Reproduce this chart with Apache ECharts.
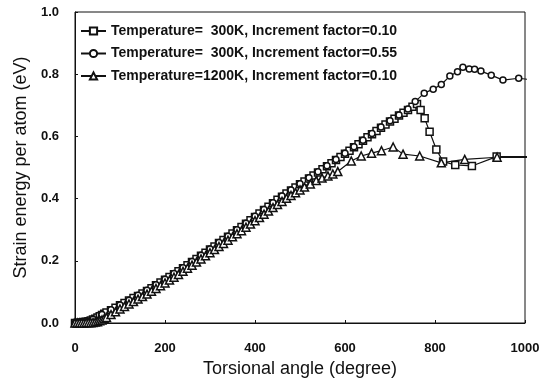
<!DOCTYPE html>
<html>
<head>
<meta charset="utf-8">
<title>Strain energy</title>
<script src="https://cdn.jsdelivr.net/npm/echarts@6/dist/echarts.min.js"></script>
<style>
	html, body { margin: 0; padding: 0; background: #fff; }
	#main { width: 553px; height: 379px; }
</style>
</head>
<body>
<div id="main"></div>
<script>
// 图例文字
var legendNames = [
	'Temperature=  300K, Increment factor=0.10',
	'Temperature=  300K, Increment factor=0.55',
	'Temperature=1200K, Increment factor=0.10'
];
// 刻度
var xTicks = [0, 200, 400, 600, 800, 1000];
var yTicks = [0.0, 0.2, 0.4, 0.6, 0.8, 1.0];

// 300K, 0.10  [角度, 能量]
var sq300 = [[0,0.000],[5,0.000],[10,0.001],[15,0.002],[20,0.003],[25,0.004],[30,0.006],[35,0.008],[40,0.011],[45,0.014],
	[50,0.018],[55,0.022],[60,0.026],[65,0.030],[70,0.034],[80,0.041],[90,0.049],
	[100,0.057],[110,0.064],[120,0.072],[130,0.080],[140,0.087],[150,0.095],[160,0.103],[170,0.112],[180,0.121],[190,0.130],
	[200,0.139],[210,0.148],[220,0.157],[230,0.166],[240,0.176],[250,0.186],[260,0.196],[270,0.206],[280,0.216],[290,0.226],
	[300,0.236],[310,0.246],[320,0.257],[330,0.267],[340,0.277],[350,0.288],[360,0.298],[370,0.309],[380,0.319],[390,0.330],
	[400,0.341],[410,0.352],[420,0.363],[430,0.374],[440,0.385],[450,0.396],[460,0.406],[470,0.416],[480,0.426],[490,0.436],
	[500,0.446],[510,0.455],[520,0.465],[530,0.474],[540,0.484],[550,0.494],[560,0.504],[570,0.514],[580,0.524],[590,0.534],
	[600,0.544],[610,0.554],[620,0.565],[630,0.575],[640,0.586],[650,0.597],[660,0.607],[670,0.617],[680,0.628],[690,0.638],
	[700,0.648],[710,0.657],[720,0.667],[730,0.676],[740,0.685],[750,0.695],[760,0.704],
	[768,0.685],[777,0.658],[788,0.615],[803,0.558],[818,0.519],[845,0.508],[882,0.505],[937,0.535],[1015,0.535]];

// 300K, 0.55
var ci300 = [[0,0.000],[20,0.004],[40,0.012],[60,0.027],[80,0.043],[100,0.058],[120,0.073],[140,0.089],[160,0.105],[180,0.123],
	[200,0.141],[220,0.159],[240,0.178],[260,0.198],[280,0.218],[300,0.238],[320,0.259],[340,0.279],[360,0.300],[380,0.321],
	[400,0.343],[420,0.365],[440,0.387],[460,0.408],[480,0.428],[500,0.448],[520,0.467],[540,0.486],[560,0.506],[580,0.526],
	[600,0.546],[620,0.567],[640,0.588],[660,0.609],[680,0.630],[700,0.650],[720,0.669],[740,0.688],
	[756,0.712],[776,0.739],[796,0.752],[814,0.767],[833,0.794],[850,0.808],[862,0.822],[876,0.817],[888,0.816],[902,0.810],
	[925,0.797],[951,0.781],[986,0.787],[1015,0.782]];

// 1200K, 0.10
var tr1200 = [[0,0.000],[5,0.000],[10,0.000],[15,0.000],[20,0.000],[25,0.001],[30,0.001],[35,0.001],[40,0.002],[45,0.003],
	[50,0.004],[55,0.007],[60,0.010],[65,0.014],[70,0.018],[80,0.027],[90,0.036],
	[100,0.045],[110,0.053],[120,0.061],[130,0.069],[140,0.077],[150,0.085],[160,0.093],[170,0.102],[180,0.111],[190,0.120],
	[200,0.129],[210,0.138],[220,0.147],[230,0.156],[240,0.166],[250,0.176],[260,0.186],[270,0.196],[280,0.206],[290,0.216],
	[300,0.226],[310,0.236],[320,0.246],[330,0.256],[340,0.266],[350,0.277],[360,0.287],[370,0.297],[380,0.308],[390,0.318],
	[400,0.329],[410,0.339],[420,0.350],[430,0.360],[440,0.371],[450,0.381],[460,0.391],[470,0.401],[480,0.410],[490,0.419],
	[500,0.428],[510,0.437],[523,0.447],[536,0.458],[549,0.466],[562,0.473],[573,0.479],[584,0.487],
	[614,0.521],[636,0.537],[659,0.546],[681,0.554],[707,0.566],[729,0.543],[766,0.537],[814,0.515],[866,0.526],[938,0.533],[1015,0.532]];

var ink = '#111';
var fontName = 'Liberation Sans';

function lineSeries(name, data, symbol, size) {
	return {
		name: name,
		type: 'line',
		data: data,
		symbol: symbol,
		symbolSize: size,
		clip: true,
		lineStyle: { color: ink, width: 1.2 },
		itemStyle: { color: '#fff', borderColor: ink, borderWidth: 1.5 }
	};
}

function initEcharts() {
	var myChart = echarts.init(document.getElementById('main'), null, { renderer: 'canvas' });
	var option = {
		animation: false,
		backgroundColor: '#fff',
		grid: {
			left: 75, right: 28, top: 12, bottom: 56,
			outerBoundsMode: 'none',
			show: true, borderColor: ink, borderWidth: 1
		},
		legend: {
			orient: 'vertical',
			left: 75,
			top: 19,
			itemWidth: 25,
			itemHeight: 9,
			itemGap: 8.5,
			data: legendNames,
			textStyle: { color: ink, fontFamily: fontName, fontWeight: 'bold', fontSize: 14, lineHeight: 14 }
		},
		xAxis: {
			type: 'value',
			min: xTicks[0],
			max: xTicks[xTicks.length - 1],
			interval: xTicks[1] - xTicks[0],
			name: 'Torsional angle (degree)',
			nameLocation: 'middle',
			nameGap: 37,
			nameTextStyle: { color: ink, fontFamily: fontName, fontSize: 18 },
			axisLine: { lineStyle: { color: ink, width: 1 } },
			axisTick: { inside: true, length: 3, lineStyle: { color: ink } },
			axisLabel: {
				color: ink, fontFamily: fontName, fontWeight: 'bold', fontSize: 13, margin: 19,
				formatter: function(v) { return String(v); }
			},
			splitLine: { show: false }
		},
		yAxis: {
			type: 'value',
			min: yTicks[0],
			max: yTicks[yTicks.length - 1],
			interval: 0.2,
			name: 'Strain energy per atom (eV)',
			nameLocation: 'middle',
			nameGap: 45,
			nameTextStyle: { color: ink, fontFamily: fontName, fontSize: 18 },
			axisLine: { lineStyle: { color: ink, width: 1 } },
			axisTick: { inside: true, length: 3, lineStyle: { color: ink } },
			axisLabel: {
				color: ink, fontFamily: fontName, fontWeight: 'bold', fontSize: 13, margin: 16,
				formatter: function(v) { return v.toFixed(1); }
			},
			splitLine: { show: false }
		},
		series: [
			lineSeries(legendNames[0], sq300, 'rect', 7),
			lineSeries(legendNames[1], ci300, 'circle', 6),
			lineSeries(legendNames[2], tr1200, 'triangle', 8)
		]
	};
	myChart.setOption(option);
}

initEcharts();
</script>
</body>
</html>
